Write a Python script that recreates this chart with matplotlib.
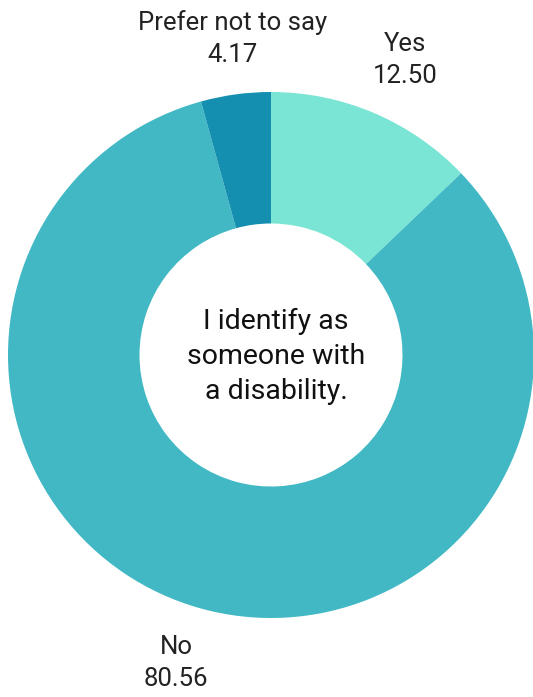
import matplotlib
matplotlib.use("Agg")
import matplotlib.pyplot as plt

# share of respondents identifying as someone with a disability
labels = ["Yes", "No", "Prefer not to say"]
values = [12.50, 80.56, 4.17]
colors = ["#7AE5D5", "#41B8C4", "#148FB0"]

plt.rcParams["font.family"] = ["Roboto", "DejaVu Sans"]

fig = plt.figure(figsize=(5.33, 6.97), dpi=100)
ax = fig.add_axes([0, 0, 1, 1])

cx, cy, r = 271, 342, 263
ax.pie(values, colors=colors, startangle=90, counterclock=False,
       center=(cx, cy), radius=r, frame=True,
       wedgeprops=dict(width=r * 0.5, linewidth=0))
ax.set_xlim(0, 533)
ax.set_ylim(0, 697)
ax.set_aspect("equal")
ax.axis("off")

# outside labels (name over value)
label_pos = {"Yes": (405, 637), "No": (176, 34), "Prefer not to say": (233, 658)}
for name, v in zip(labels, values):
    x, y = label_pos[name]
    ax.text(x, y, f"{name}\n{v:.2f}", ha="center", va="center",
            fontsize=18.5, color="#222222", linespacing=1.42)

ax.text(cx + 5, cy - 1, "I identify as\nsomeone with\na disability.", ha="center",
        va="center", fontsize=20.5, color="#111111", linespacing=1.38)

fig.savefig("out.png", dpi=100)
